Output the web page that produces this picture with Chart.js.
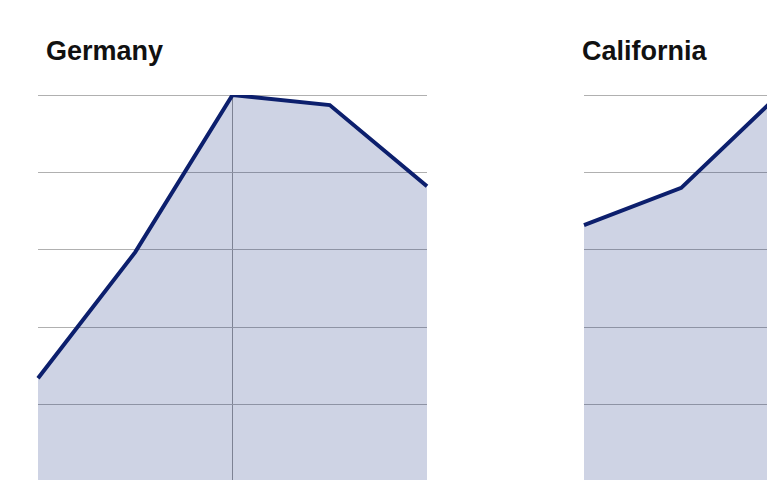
<!DOCTYPE html>
<html>
<head>
<meta charset="utf-8">
<script src="https://cdn.jsdelivr.net/npm/chart.js@4/dist/chart.umd.min.js"></script>
<style>
  html, body { margin: 0; padding: 0; background: #fff; overflow: hidden; width: 767px; height: 480px; }
  .panel { position: absolute; top: 0; }
  .panel h2 {
    position: absolute; margin: 0; top: 38px;
    font: bold 27px/27px "Liberation Sans", Arial, sans-serif; color: #111;
    white-space: nowrap;
  }
  canvas { position: absolute; top: 0; left: 0; }
</style>
</head>
<body>
<div class="panel" style="left:0px">
  <h2 style="left:46px">Germany</h2>
  <canvas id="germanyChart" width="460" height="560"></canvas>
</div>
<div class="panel" style="left:546px">
  <h2 style="left:36px">California</h2>
  <canvas id="californiaChart" width="460" height="560"></canvas>
</div>
<script>
const years = ['2018', '2019', '2020', '2021', '2022'];
const germanyValues = [1.34, 2.97, 5.0, 4.87, 3.82];
const californiaValues = [3.32, 3.80, 5.0, 4.6, 4.2];
const yTicks = [0, 1, 2, 3, 4, 5];
const markedYear = '2020';

const lineColor = '#0c1f6d';
const fillColor = 'rgba(12, 35, 120, 0.2)';
const gridColor = '#b0b0b0';

function makeChart(id, values) {
  const ctx = document.getElementById(id);
  return new Chart(ctx, {
    type: 'line',
    data: {
      labels: years,
      datasets: [{
        data: values,
        borderColor: lineColor,
        borderWidth: 4,
        backgroundColor: fillColor,
        fill: 'origin',
        pointRadius: 0,
        tension: 0
      }]
    },
    options: {
      responsive: false,
      animation: false,
      layout: {
        padding: { left: 38, right: 33, top: 95, bottom: 78 }
      },
      plugins: {
        legend: { display: false },
        tooltip: { enabled: false }
      },
      scales: {
        x: {
          offset: false,
          ticks: { display: false },
          border: { display: false },
          grid: {
            drawTicks: false,
            lineWidth: 1,
            color: c => (years[c.index] === markedYear ? '#9a9a9a' : 'rgba(0,0,0,0)')
          }
        },
        y: {
          min: yTicks[0],
          max: yTicks[yTicks.length - 1],
          ticks: { display: false, stepSize: 1 },
          border: { display: false },
          grid: { drawTicks: false, color: gridColor, lineWidth: 1 }
        }
      }
    }
  });
}

makeChart('germanyChart', germanyValues);
makeChart('californiaChart', californiaValues);
</script>
</body>
</html>
